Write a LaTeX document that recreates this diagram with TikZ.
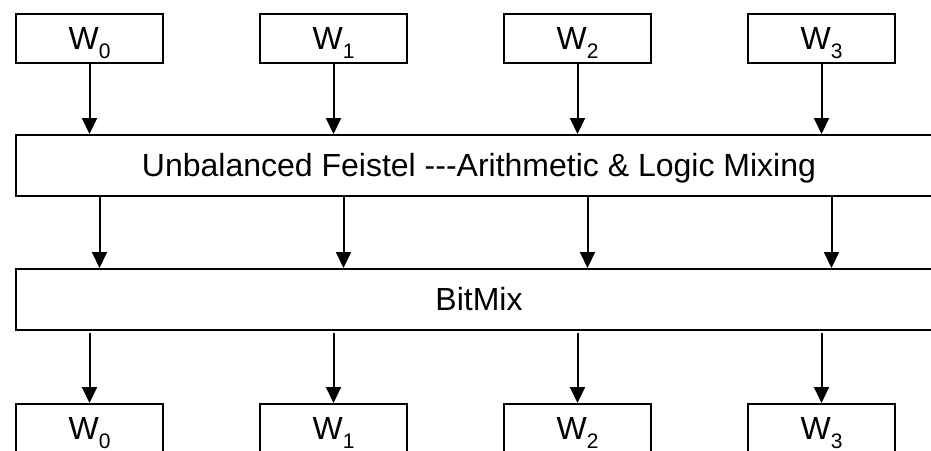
\documentclass[tikz,border=0pt]{standalone}
\usepackage{fontspec}
\setmainfont{Liberation Sans}
\usetikzlibrary{arrows.meta}
\newcommand{\wlab}[1]{W\raisebox{-9pt}{\fontsize{21}{21}\selectfont #1}}
\begin{document}
\begin{tikzpicture}[x=1pt,y=-1pt,
  box/.style={draw, line width=2pt, inner sep=0pt, font=\fontsize{32}{32}\selectfont, text height=22.5pt, text depth=0pt},
  wbox/.style={box, minimum width=147pt, minimum height=49pt},
  wide/.style={box, minimum width=926pt, minimum height=61pt},
  arr/.style={line width=2pt, -{Triangle[width=15pt,length=16pt]}}]
\useasboundingbox (0,0) rectangle (931,450);
\clip (0,0) rectangle (931,450);
% top words
\node[wbox] (t0) at (89.5,38.5) {\wlab{0}};
\node[wbox] (t1) at (333.5,38.5) {\wlab{1}};
\node[wbox] (t2) at (577.5,38.5) {\wlab{2}};
\node[wbox] (t3) at (821.5,38.5) {\wlab{3}};
% wide boxes
\node[wide] (fe) at (479,165.5) {Unbalanced Feistel -{}-{}-Arithmetic \& Logic Mixing};
\node[wide] (bm) at (479,299.5) {BitMix};
% bottom words
\node[wbox] (b0) at (89.5,428.5) {\wlab{0}};
\node[wbox] (b1) at (333.5,428.5) {\wlab{1}};
\node[wbox] (b2) at (577.5,428.5) {\wlab{2}};
\node[wbox] (b3) at (821.5,428.5) {\wlab{3}};
% middle arrow columns
\coordinate (m0) at (99.5,0);
\coordinate (m1) at (343.5,0);
\coordinate (m2) at (587.5,0);
\coordinate (m3) at (831.5,0);
\foreach \i in {0,1,2,3}{
  \draw[arr] (t\i.south) -- (t\i.south |- fe.north);
  \draw[arr] (m\i |- fe.south) -- (m\i |- bm.north);
  \draw[arr, shorten <=2pt] (b\i.north |- bm.south) -- (b\i.north);
}
\end{tikzpicture}
\end{document}
